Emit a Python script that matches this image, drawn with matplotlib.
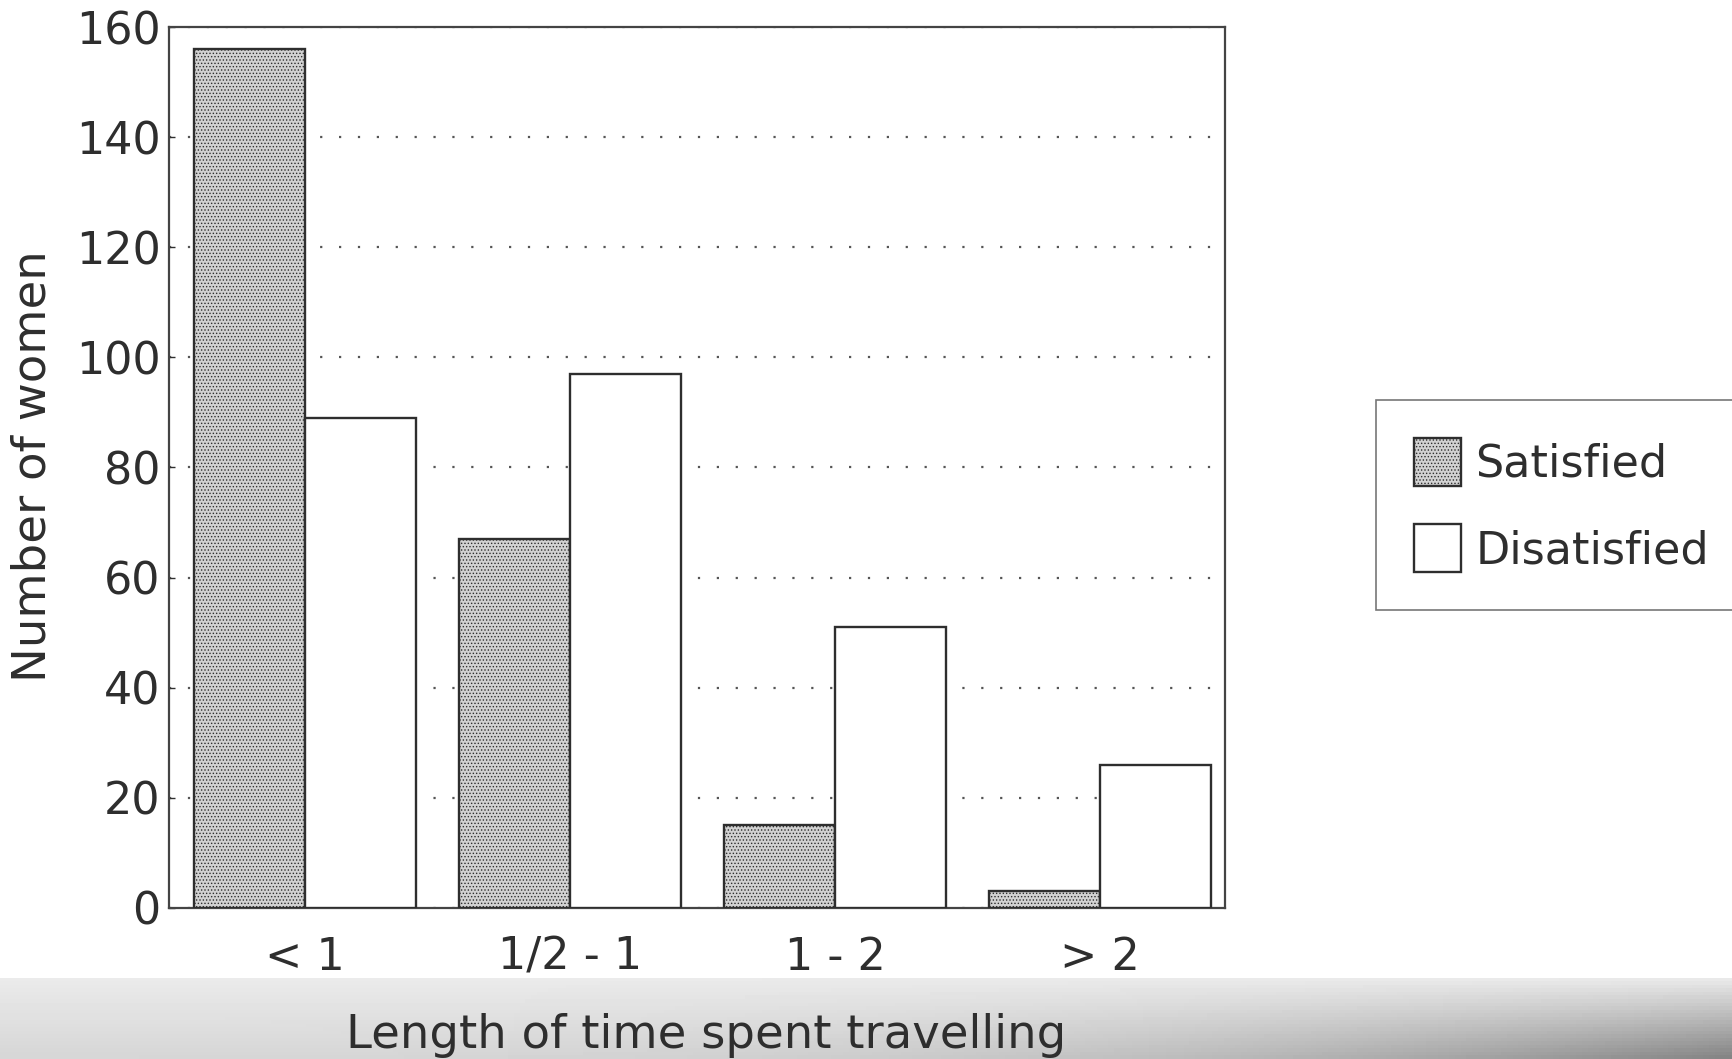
import numpy as np
import matplotlib
matplotlib.use("Agg")
import matplotlib.pyplot as plt

# values
categories = ["< 1", "1/2 - 1", "1 - 2", "> 2"]
satisfied = [156, 67, 15, 3]
dissatisfied = [89, 97, 51, 26]
series_names = ["Satisfied", "Disatisfied"]
yticks = [0, 20, 40, 60, 80, 100, 120, 140, 160]

plt.rcParams['font.family'] = ['DejaVu Sans']
plt.rcParams['hatch.color'] = '#9a9a9a'
plt.rcParams['hatch.linewidth'] = 0.6

ink = '#2e2e2e'
fig = plt.figure(figsize=(17.32, 10.59), dpi=100)

# grey band at the bottom of the scan
bg = fig.add_axes([0, 0, 1, 1], zorder=-10)
h, w = 300, 300
yy = np.linspace(0, 1, h)[:, None]
xx = np.linspace(0, 1, w)[None, :]
top = 0.925
band = np.clip((yy - top) / (1 - top), 0, 1)
shade = 1 - (yy > top) * 0.08 - band * (0.08 + 0.32 * xx ** 3)
bg.imshow(shade, cmap='gray', vmin=0, vmax=1, aspect='auto', extent=[0, 1, 1, 0])
bg.set_xlim(0, 1)
bg.set_ylim(1, 0)
bg.axis('off')

ax = fig.add_axes([0.0976, 0.1426, 0.6097, 0.8319])
ax.patch.set_alpha(0)

x = np.arange(len(categories))
width = 0.42
ax.bar(x - width / 2, satisfied, width, color='#d2d2d2', hatch='.....',
       edgecolor=ink, linewidth=1.7, label=series_names[0], zorder=3)
ax.bar(x + width / 2, dissatisfied, width, color='white',
       edgecolor=ink, linewidth=1.7, label=series_names[1], zorder=3)

ax.set_xlim(-0.513, 3.472)
ax.set_ylim(0, 160)
ax.set_yticks(yticks)
ax.set_xticks(x)
ax.set_xticklabels(categories)
ax.tick_params(axis='x', length=0, pad=20, labelsize=32, labelcolor=ink)
ax.tick_params(axis='y', direction='in', length=4, width=1, pad=6,
               labelsize=32, labelcolor=ink, color=ink)
for sp in ax.spines.values():
    sp.set_color('#444444')
    sp.set_linewidth(1.6)
ax.yaxis.grid(True, linestyle=(0, (1, 7.5)), linewidth=1.6, color='#555555', zorder=1)
ax.set_axisbelow(True)

fig.text(0.4076, 1 - 1035 / 1059, "Length of time spent travelling",
         ha='center', va='center', fontsize=33.5, color=ink)
fig.text(0.019, 0.56, "Number of women", rotation=90,
         ha='center', va='center', fontsize=33.5, color=ink)

leg = fig.legend(loc='upper left', bbox_to_anchor=(0.7945, 0.6223),
                 bbox_transform=fig.transFigure, fontsize=32,
                 frameon=True, fancybox=False, borderaxespad=0,
                 handlelength=1.05, handleheight=1.3, handletextpad=0.33,
                 borderpad=0.85, labelspacing=0.85)
leg.get_frame().set_edgecolor('#555555')
leg.get_frame().set_linewidth(1.2)
for t in leg.get_texts():
    t.set_color(ink)

fig.savefig('out.png', dpi=100)
